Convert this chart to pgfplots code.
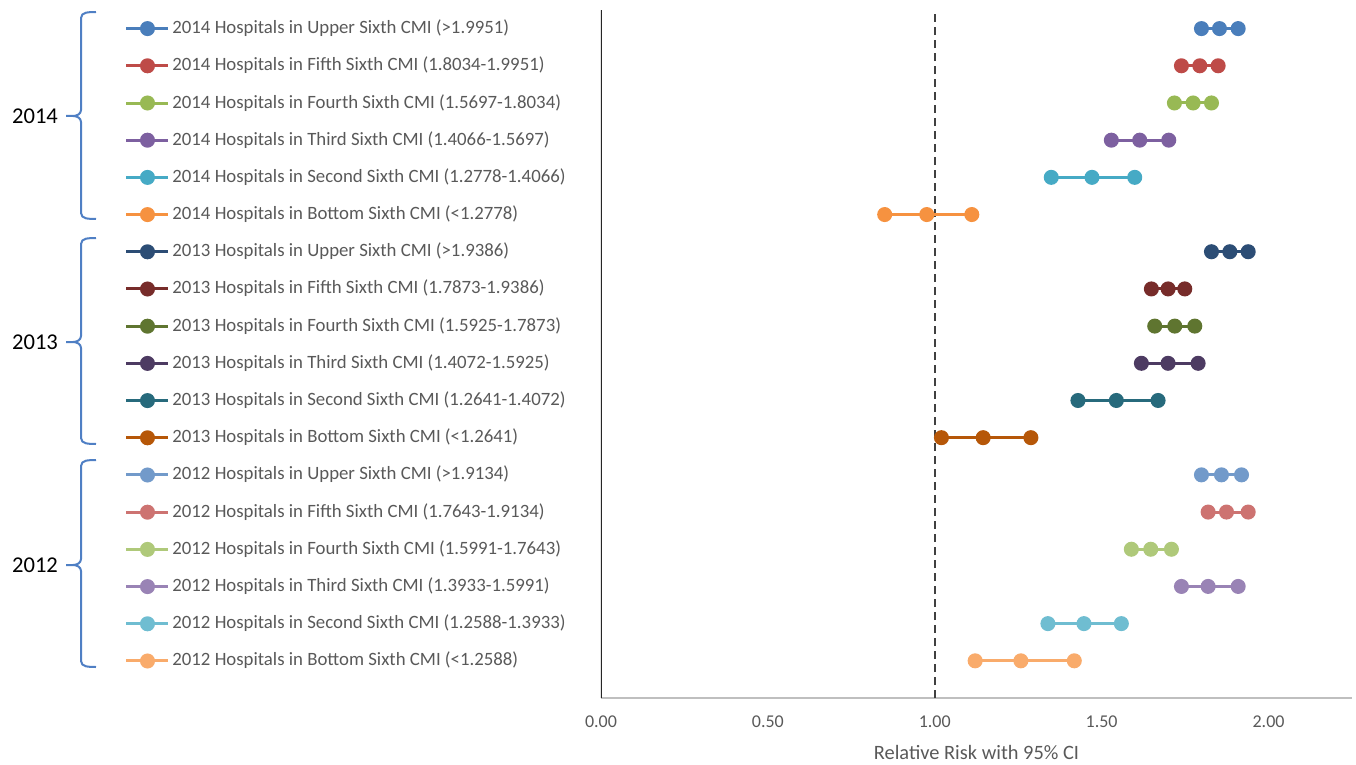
\documentclass[border=0pt]{standalone}
\usepackage{pgfplots}
\pgfplotsset{compat=1.18}
\usepackage{fontspec}
\setmainfont{Carlito}
\definecolor{labgray}{HTML}{595959}
\definecolor{axisgray}{HTML}{BFBFBF}
\definecolor{dashgray}{HTML}{404040}
\definecolor{vline}{HTML}{262626}
\definecolor{bracecol}{HTML}{4F7FC4}
\definecolor{cAa}{HTML}{4A7EBB}\definecolor{cAb}{HTML}{BE4B48}\definecolor{cAc}{HTML}{98B954}
\definecolor{cAd}{HTML}{7D60A0}\definecolor{cAe}{HTML}{46AAC5}\definecolor{cAf}{HTML}{F69240}
\definecolor{cBa}{HTML}{2C4D75}\definecolor{cBb}{HTML}{772C2A}\definecolor{cBc}{HTML}{5F7530}
\definecolor{cBd}{HTML}{4D3B62}\definecolor{cBe}{HTML}{276A7C}\definecolor{cBf}{HTML}{B65708}
\definecolor{cCa}{HTML}{729ACA}\definecolor{cCb}{HTML}{CD7371}\definecolor{cCc}{HTML}{AFC97A}
\definecolor{cCd}{HTML}{9983B5}\definecolor{cCe}{HTML}{6FBDD1}\definecolor{cCf}{HTML}{F9AB6B}
\pgfplotsset{ser/.style={color=#1, line width=1.5pt, mark=*, mark size=3pt, mark options={solid}}}
\begin{document}
\begin{tikzpicture}
\path[use as bounding box] (0,0) rectangle (678pt,-382.5pt);
\begin{axis}[
  at={(300.5pt,-349pt)}, anchor=south west,
  scale only axis, width=375.5pt, height=344pt,
  xmin=0, xmax=2.25, ymin=0, ymax=18.5,
  axis x line*=bottom, axis y line=none,
  x axis line style={draw=axisgray, line width=0.7pt, -},
  xtick={0,0.5,1,1.5,2}, major tick length=0pt, ytick=\empty,
  x tick label style={font=\fontsize{9}{11}\selectfont, text=labgray, anchor=center, yshift=-12pt},
  /pgf/number format/.cd, fixed, fixed zerofill, precision=2, assume math mode=true, /pgfplots/.cd,
  xlabel={Relative Risk with 95\% CI},
  xlabel style={font=\fontsize{10.2}{12}\selectfont, text=labgray, at={(axis description cs:0.5,0)}, anchor=center, yshift=-27pt},
  legend style={draw=none, fill=none, at={(axis cs:0,18)}, anchor=north west, xshift=-238pt, yshift=4.5pt,
    inner sep=0pt, outer sep=0pt, row sep=9.6pt, column sep=0pt,
    font=\fontsize{9.4}{11}\selectfont,
    nodes={inner xsep=1.2pt, inner ysep=0pt, text height=7pt, text depth=2pt, text=labgray}},
  legend cell align=left,
  legend image code/.code={\draw[mark repeat=2,mark phase=2] plot coordinates {(0pt,0pt)(10.5pt,0pt)(21pt,0pt)};},
]
\draw[vline, line width=1.15pt] (axis cs:0,0) -- (axis cs:0,18.5);
\draw[dashgray, line width=0.9pt, dash pattern=on 4pt off 2.5pt] (axis cs:1,0) -- (axis cs:1,18.45);
\addplot[ser=cAa] coordinates {(1.799,18)(1.853,18)(1.909,18)};
\addlegendentry{2014 Hospitals in Upper Sixth CMI (>1.9951)}
\addplot[ser=cAb] coordinates {(1.739,17)(1.794,17)(1.849,17)};
\addlegendentry{2014 Hospitals in Fifth Sixth CMI (1.8034-1.9951)}
\addplot[ser=cAc] coordinates {(1.718,16)(1.774,16)(1.829,16)};
\addlegendentry{2014 Hospitals in Fourth Sixth CMI (1.5697-1.8034)}
\addplot[ser=cAd] coordinates {(1.529,15)(1.614,15)(1.701,15)};
\addlegendentry{2014 Hospitals in Third Sixth CMI (1.4066-1.5697)}
\addplot[ser=cAe] coordinates {(1.349,14)(1.471,14)(1.599,14)};
\addlegendentry{2014 Hospitals in Second Sixth CMI (1.2778-1.4066)}
\addplot[ser=cAf] coordinates {(0.850,13)(0.976,13)(1.111,13)};
\addlegendentry{2014 Hospitals in Bottom Sixth CMI (<1.2778)}
\addplot[ser=cBa] coordinates {(1.829,12)(1.884,12)(1.939,12)};
\addlegendentry{2013 Hospitals in Upper Sixth CMI (>1.9386)}
\addplot[ser=cBb] coordinates {(1.649,11)(1.699,11)(1.749,11)};
\addlegendentry{2013 Hospitals in Fifth Sixth CMI (1.7873-1.9386)}
\addplot[ser=cBc] coordinates {(1.659,10)(1.719,10)(1.779,10)};
\addlegendentry{2013 Hospitals in Fourth Sixth CMI (1.5925-1.7873)}
\addplot[ser=cBd] coordinates {(1.619,9)(1.699,9)(1.789,9)};
\addlegendentry{2013 Hospitals in Third Sixth CMI (1.4072-1.5925)}
\addplot[ser=cBe] coordinates {(1.429,8)(1.544,8)(1.669,8)};
\addlegendentry{2013 Hospitals in Second Sixth CMI (1.2641-1.4072)}
\addplot[ser=cBf] coordinates {(1.020,7)(1.145,7)(1.288,7)};
\addlegendentry{2013 Hospitals in Bottom Sixth CMI (<1.2641)}
\addplot[ser=cCa] coordinates {(1.799,6)(1.859,6)(1.919,6)};
\addlegendentry{2012 Hospitals in Upper Sixth CMI (>1.9134)}
\addplot[ser=cCb] coordinates {(1.819,5)(1.874,5)(1.939,5)};
\addlegendentry{2012 Hospitals in Fifth Sixth CMI (1.7643-1.9134)}
\addplot[ser=cCc] coordinates {(1.589,4)(1.647,4)(1.709,4)};
\addlegendentry{2012 Hospitals in Fourth Sixth CMI (1.5991-1.7643)}
\addplot[ser=cCd] coordinates {(1.739,3)(1.819,3)(1.909,3)};
\addlegendentry{2012 Hospitals in Third Sixth CMI (1.3933-1.5991)}
\addplot[ser=cCe] coordinates {(1.339,2)(1.447,2)(1.559,2)};
\addlegendentry{2012 Hospitals in Second Sixth CMI (1.2588-1.3933)}
\addplot[ser=cCf] coordinates {(1.121,1)(1.258,1)(1.418,1)};
\addlegendentry{2012 Hospitals in Bottom Sixth CMI (<1.2588)}
\end{axis}
\begin{scope}[x=0.5pt,y=-0.5pt]
\foreach \t/\m/\b/\yr in {12/116/219/2014, 238/342/444/2013, 460/565/667/2012}{
  \draw[bracecol, line width=1pt] (96,\t) to[out=180,in=90] (81,\t+6) -- (81,\m-6)
     to[out=270,in=0] (73,\m) -- (66,\m) -- (73,\m) to[out=0,in=90] (81,\m+6) -- (81,\b-6) to[out=270,in=180] (96,\b);
  \node[font=\fontsize{11.3}{13}\selectfont, text=black, anchor=center] at (35,\m) {\yr};
}
\end{scope}
\end{tikzpicture}
\end{document}
